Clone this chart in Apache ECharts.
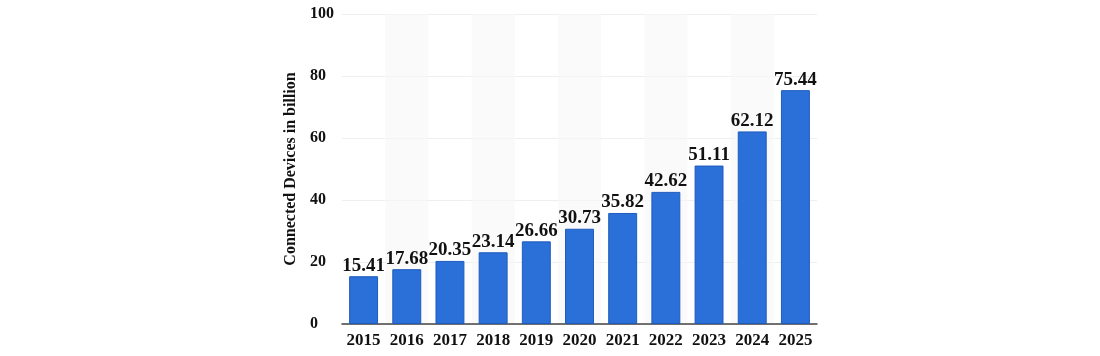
<!DOCTYPE html>
<html><head><meta charset="utf-8">
<script src="https://cdn.jsdelivr.net/npm/echarts@6/dist/echarts.min.js"></script>
<style>html,body{margin:0;padding:0;background:#fff}#c{width:1100px;height:356px}</style>
</head><body><div id="c"></div>
<script>
const years = ['2015','2016','2017','2018','2019','2020','2021','2022','2023','2024','2025'];
const devices = [15.41,17.68,20.35,23.14,26.66,30.73,35.82,42.62,51.11,62.12,75.44];
const yTicks = {min:0, max:100, interval:20};
const chart = echarts.init(document.getElementById('c'));
const font = '"Liberation Serif","DejaVu Serif",serif';
chart.setOption({
  animation:false,
  grid:{left:342,right:283,top:14,bottom:32},
  xAxis:{type:'category',data:years,
    axisLine:{lineStyle:{color:'#444',width:1.5}},
    axisTick:{show:false},
    axisLabel:{interval:0,hideOverlap:false,color:'#111',fontFamily:font,fontWeight:'bold',fontSize:17,margin:8},
    splitArea:{show:true,interval:0,areaStyle:{color:['rgba(0,0,0,0)','rgba(246,246,246,0.6)']}}
  },
  yAxis:{type:'value',min:yTicks.min,max:yTicks.max,interval:yTicks.interval,
    name:'Connected Devices in billion',nameLocation:'middle',nameGap:43,
    nameTextStyle:{color:'#111',fontFamily:font,fontWeight:'bold',fontSize:16},
    axisLine:{show:false},axisTick:{show:false},
    axisLabel:{color:'#111',fontFamily:font,fontWeight:'bold',fontSize:16,align:'left',margin:32},
    splitLine:{lineStyle:{color:'#efefef',width:1}}
  },
  series:[{type:'bar',data:devices,barCategoryGap:'33%',
    itemStyle:{color:'#2b6fd9',borderColor:'#1f5bbd',borderWidth:1},
    label:{show:true,position:'top',distance:1,color:'#111',fontFamily:font,fontWeight:'bold',fontSize:19,
      formatter:p=>p.value.toFixed(2)}
  }]
});
</script></body></html>
